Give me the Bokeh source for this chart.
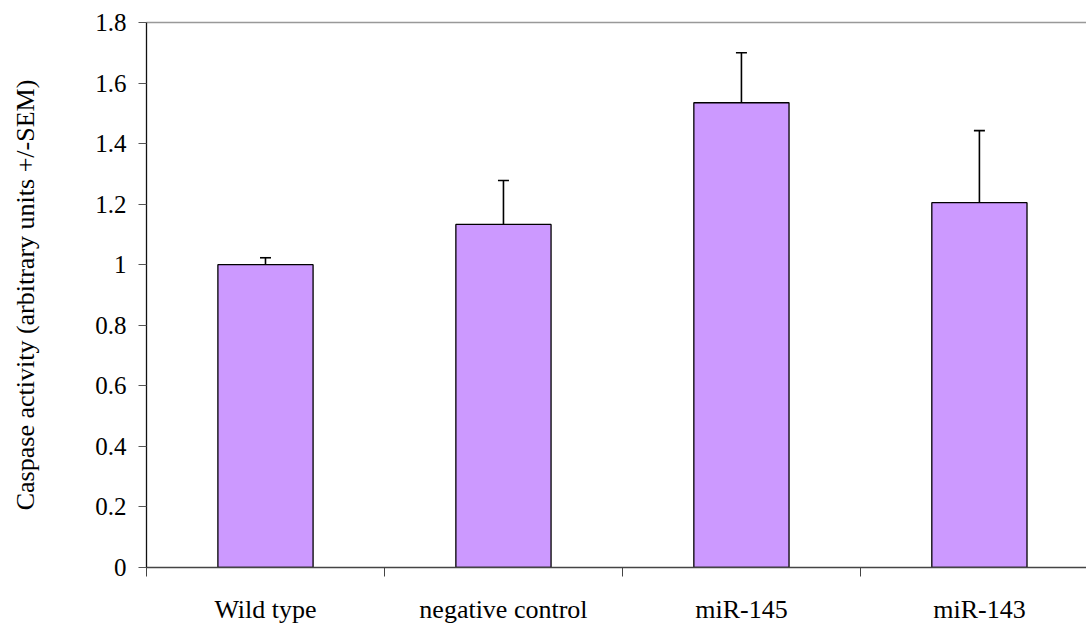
from bokeh.plotting import figure
from bokeh.models import (ColumnDataSource, Range1d, FixedTicker, LinearAxis,
                          CustomJSTickFormatter, Whisker, TeeHead)
from bokeh.embed import file_html
from bokeh.resources import INLINE

categories = ["Wild type", "negative control", "miR-145", "miR-143"]
values = [1.00, 1.133, 1.535, 1.205]
sem = [0.023, 0.145, 0.165, 0.238]
y_ticks = [0, 0.2, 0.4, 0.6, 0.8, 1.0, 1.2, 1.4, 1.6, 1.8]

xpos = [i + 0.5 for i in range(len(categories))]
upper = [v + e for v, e in zip(values, sem)]
src = ColumnDataSource(dict(x=xpos, top=values, upper=upper, cat=categories))

FONT = "Liberation Serif"

p = figure(width=1086, height=626, output_backend="svg", toolbar_location=None,
           x_range=Range1d(0, 3.95), y_range=Range1d(0, 1.8),
           min_border_left=146, min_border_right=0, min_border_top=22,
           min_border_bottom=59, x_axis_location=None, y_axis_location=None)
p.outline_line_color = None
p.xgrid.visible = False
p.ygrid.visible = False
p.background_fill_color = "white"
p.border_fill_color = "white"

p.vbar(x="x", top="top", width=0.4, bottom=0, source=src,
       fill_color="#CC99FF", line_color="black", line_width=1.3)

w = Whisker(base="x", lower="top", upper="upper", source=src,
            line_color="black", line_width=1.6,
            upper_head=TeeHead(size=11, line_color="black", line_width=1.6),
            lower_head=None)
p.add_layout(w)

# y axis
yax = LinearAxis(ticker=FixedTicker(ticks=y_ticks, minor_ticks=[]),
                 formatter=CustomJSTickFormatter(code="return tick.toFixed(1).replace(/\\.0$/, '');"))
yax.axis_label = "Caspase activity (arbitrary units +/-SEM)"
yax.axis_label_text_font = FONT
yax.axis_label_text_font_size = "26px"
yax.axis_label_text_font_style = "normal"
yax.axis_label_text_color = "black"
yax.axis_label_standoff = 52
yax.major_label_text_font = FONT
yax.major_label_text_font_size = "25px"
yax.major_label_text_color = "black"
yax.major_label_standoff = 12
yax.major_tick_out = 8
yax.major_tick_in = 0
yax.major_tick_line_color = "#555555"
yax.axis_line_color = "#111111"
yax.axis_line_width = 1.3
p.add_layout(yax, "left")

# x axis: labels at centers, ticks at category boundaries
label_map = {x: c for x, c in zip(xpos, categories)}
xax = LinearAxis(ticker=FixedTicker(ticks=xpos, minor_ticks=[0, 1, 2, 3, 4]),
                 major_label_overrides=label_map)
xax.major_label_text_font = FONT
xax.major_label_text_font_size = "26px"
xax.major_label_text_color = "black"
xax.major_label_standoff = 18
xax.major_tick_line_color = None
xax.major_tick_out = 0
xax.major_tick_in = 0
xax.minor_tick_out = 9
xax.minor_tick_in = 0
xax.minor_tick_line_color = "#444444"
xax.axis_line_color = "#444444"
xax.axis_line_width = 1.3
p.add_layout(xax, "below")

# top border line
tax = LinearAxis(ticker=FixedTicker(ticks=[], minor_ticks=[]))
tax.major_label_text_font_size = "0px"
tax.major_label_standoff = 0
tax.major_tick_line_color = None
tax.major_tick_out = 0
tax.minor_tick_line_color = None
tax.axis_line_color = "#999999"
tax.axis_line_width = 1.3
p.add_layout(tax, "above")

open("out.html", "w").write(file_html(p, INLINE))
